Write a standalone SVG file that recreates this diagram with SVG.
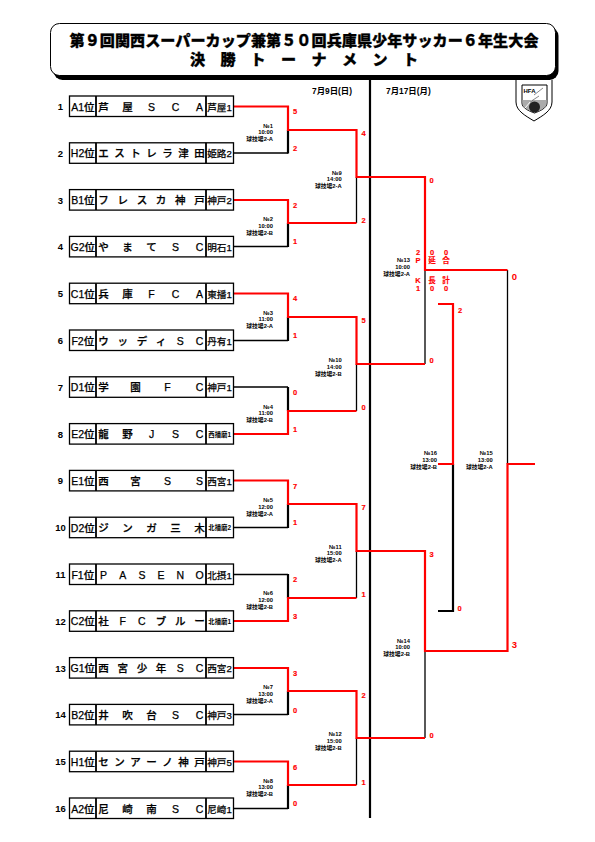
<svg xmlns="http://www.w3.org/2000/svg" width="595" height="842" viewBox="0 0 595 842">
<style>
text{font-family:"Liberation Sans","Noto Sans CJK JP",sans-serif;fill:#000}
.n{font-size:9.5px;font-weight:700;text-anchor:middle}
.b{fill:#fff;stroke:#000;stroke-width:1.3}
.d{fill:none;stroke:#000;stroke-width:1.8}
.s{font-size:10.5px;text-anchor:middle;font-weight:500;stroke:#000;stroke-width:.25}
.t{font-size:10.5px;text-anchor:middle;font-weight:500;stroke:#000;stroke-width:.25}
.c{font-size:9.6px;text-anchor:middle;stroke:#000;stroke-width:.25}
.c2{font-size:6.400px;text-anchor:middle;font-weight:700}
.m{font-size:5.800px;text-anchor:end;font-weight:700}
.r{font-size:7.500px;font-weight:700;text-anchor:middle;fill:#f00;stroke:#f00;stroke-width:.15}
.rb{font-size:9.500px;font-weight:700;text-anchor:middle;fill:#f00}
.red{fill:none;stroke:#f00;stroke-width:2.200}
.blk{fill:none;stroke:#000;stroke-width:2.200}
.thin{fill:none;stroke:#000;stroke-width:1.300}
.dt{font-size:8.400px;font-weight:700}
.ti{font-size:15.100px;font-weight:900;text-anchor:middle;stroke:#000;stroke-width:.3}
</style>
<g id="title">
<rect x="53.500" y="27" width="505" height="53" rx="9" fill="#000"/>
<rect x="50.500" y="23.500" width="505" height="52" rx="9" fill="#fff" stroke="#000" stroke-width="1"/>
<text class="ti" x="304" y="46" textLength="469" lengthAdjust="spacing">第９回関西スーパーカップ兼第５０回兵庫県少年サッカー６年生大会</text>
<text class="ti" x="197.500 228 258 288.500 319 349.500 380 410.500" y="65">決勝トーナメント</text>
</g>
<g id="logo">
<path d="M516 80V102C516 111 526 116 534 121C542 116 552 111 552 102V80" fill="#fff" stroke="#000" stroke-width="1"/>
<path d="M522 85H547V103C547 108 540 111 534.500 113C529 111 522 108 522 103Z" fill="#fff" stroke="#000" stroke-width="1"/>
<path d="M522.500 100H546.500V103C546.500 108 540 110.500 534.500 112.500C529 110.500 522.500 108 522.500 103Z" fill="#aaa"/>
<circle cx="534.500" cy="107" r="5.500" fill="#222"/>
<path d="M525 108L542 88" stroke="#fff" stroke-width="1" fill="none"/>
<path d="M534 95L543 88M530 102L539 96" stroke="#555" stroke-width=".7" fill="none"/>
<text x="523.500" y="93" style="font-size:6px;font-weight:700">HFA</text>
</g>
<g id="dates">
<text class="dt" x="312" y="93.500">7月9日(日)</text>
<text class="dt" x="386" y="93.500">7月17日(月)</text>
</g>
<g id="connectors">
<path class="blk" d="M370 78V818"/>
<path class="thin" d="M233 153H288M233 246.500H288M233 340.500H288M233 387H288M233 527.500H288M233 574.500H288M233 714.500H288M233 808.500H288"/>
<path class="blk" d="M288 130V153.500M288 223V247M288 317V341M288 387V411M288 504V528M288 574V598M288 691V715M288 785V809"/>
<path class="thin" d="M356.500 177V223M356.500 364V411M356.500 551V598M356.500 738V785"/>
<path class="thin" d="M425 270V364M425 651V738M507.500 270V464"/>
<path class="blk" d="M453 464V611H438"/>
<path class="red" d="M233 106.500H288V130H356.500V177H425V270H507.500"/>
<path class="red" d="M233 200H288V223H356.500"/>
<path class="red" d="M233 293.500H288V317H356.500V364H425"/>
<path class="red" d="M233 434H288V411H356.500"/>
<path class="red" d="M233 480.500H288V504H356.500V551H425V651H507.500V464H535"/>
<path class="red" d="M233 621H288V598H356.500"/>
<path class="red" d="M233 668H288V691H356.500V738H425"/>
<path class="red" d="M233 761.500H288V785H356.500"/>
<path class="red" d="M438 304H453V464H438"/>
</g>
<g id="scores">
<text class="r" x="295" y="113.500">5</text><text class="r" x="295" y="150.500">2</text>
<text class="r" x="295" y="207.500">2</text><text class="r" x="295" y="243.500">1</text>
<text class="r" x="295" y="300.500">4</text><text class="r" x="295" y="337.500">1</text>
<text class="r" x="295" y="394.500">0</text><text class="r" x="295" y="431.500">1</text>
<text class="r" x="295" y="488.500">7</text><text class="r" x="295" y="524.500">1</text>
<text class="r" x="295" y="581.500">2</text><text class="r" x="295" y="618.500">3</text>
<text class="r" x="295" y="675.500">3</text><text class="r" x="295" y="712.500">0</text>
<text class="r" x="295" y="769.500">6</text><text class="r" x="295" y="805.500">0</text>
<text class="r" x="363.500" y="135.500">4</text><text class="r" x="363.500" y="222.500">2</text>
<text class="r" x="363.500" y="322.500">5</text><text class="r" x="363.500" y="409.500">0</text>
<text class="r" x="363.500" y="509.500">7</text><text class="r" x="363.500" y="596.500">1</text>
<text class="r" x="363.500" y="697.500">2</text><text class="r" x="363.500" y="784.500">1</text>
<text class="r" x="431.700" y="182.500">0</text><text class="r" x="431.700" y="362.500">0</text>
<text class="r" x="431.700" y="556.500">3</text><text class="r" x="431.700" y="737.500">0</text>
<text class="rb" x="514.500" y="280">0</text><text class="rb" x="514.500" y="648">3</text>
<text class="r" x="460" y="313">2</text><text class="r" x="459.700" y="610.500">0</text>
<text class="r" x="418" y="254.500">2</text><text class="r" x="432" y="254.500">0</text><text class="r" x="446" y="254.500">0</text>
<text class="r" x="418" y="263">P</text><text class="r" x="432" y="263">延</text><text class="r" x="446" y="263">合</text>
<text class="r" x="418" y="283">K</text><text class="r" x="432" y="283">長</text><text class="r" x="446" y="283">計</text>
<text class="r" x="418" y="291">1</text><text class="r" x="432" y="291">0</text><text class="r" x="446" y="291">0</text>
</g>
<g id="team-1" transform="translate(0,96)"><text class="n" x="60.500" y="14">1</text><rect class="b" x="69.500" y="0" width="164" height="20.500"/><path class="d" d="M96 0V20.500M206 0V20.500"/><text class="s" x="82.800" y="14.500">A1位</text><text class="t" x="103.500 127.500 151.500 175.500 199.500" y="14.500">芦屋SCA</text><text class="c" x="219.500" y="14.500">芦屋1</text></g>
<g id="team-2" transform="translate(0,142.800)"><text class="n" x="60.500" y="14">2</text><rect class="b" x="69.500" y="0" width="164" height="20.500"/><path class="d" d="M96 0V20.500M206 0V20.500"/><text class="s" x="82.800" y="14.500">H2位</text><text class="t" x="103.500 119.500 135.500 151.500 167.500 183.500 199.500" y="14.500">エストレラ津田</text><text class="c" x="219.500" y="14.500">姫路2</text></g>
<g id="team-3" transform="translate(0,189.600)"><text class="n" x="60.500" y="14">3</text><rect class="b" x="69.500" y="0" width="164" height="20.500"/><path class="d" d="M96 0V20.500M206 0V20.500"/><text class="s" x="82.800" y="14.500">B1位</text><text class="t" x="103.500 122.700 141.900 161.100 180.300 199.500" y="14.500">フレスカ神戸</text><text class="c" x="219.500" y="14.500">神戸2</text></g>
<g id="team-4" transform="translate(0,236.400)"><text class="n" x="60.500" y="14">4</text><rect class="b" x="69.500" y="0" width="164" height="20.500"/><path class="d" d="M96 0V20.500M206 0V20.500"/><text class="s" x="82.800" y="14.500">G2位</text><text class="t" x="103.500 127.500 151.500 175.500 199.500" y="14.500">やまてSC</text><text class="c" x="219.500" y="14.500">明石1</text></g>
<g id="team-5" transform="translate(0,283.200)"><text class="n" x="60.500" y="14">5</text><rect class="b" x="69.500" y="0" width="164" height="20.500"/><path class="d" d="M96 0V20.500M206 0V20.500"/><text class="s" x="82.800" y="14.500">C1位</text><text class="t" x="103.500 127.500 151.500 175.500 199.500" y="14.500">兵庫FCA</text><text class="c" x="219.500" y="14.500">東播1</text></g>
<g id="team-6" transform="translate(0,330)"><text class="n" x="60.500" y="14">6</text><rect class="b" x="69.500" y="0" width="164" height="20.500"/><path class="d" d="M96 0V20.500M206 0V20.500"/><text class="s" x="82.800" y="14.500">F2位</text><text class="t" x="103.500 122.700 141.900 161.100 180.300 199.500" y="14.500">ウッディSC</text><text class="c" x="219.500" y="14.500">丹有1</text></g>
<g id="team-7" transform="translate(0,376.800)"><text class="n" x="60.500" y="14">7</text><rect class="b" x="69.500" y="0" width="164" height="20.500"/><path class="d" d="M96 0V20.500M206 0V20.500"/><text class="s" x="82.800" y="14.500">D1位</text><text class="t" x="103.500 135.500 167.500 199.500" y="14.500">学園FC</text><text class="c" x="219.500" y="14.500">神戸1</text></g>
<g id="team-8" transform="translate(0,423.600)"><text class="n" x="60.500" y="14">8</text><rect class="b" x="69.500" y="0" width="164" height="20.500"/><path class="d" d="M96 0V20.500M206 0V20.500"/><text class="s" x="82.800" y="14.500">E2位</text><text class="t" x="103.500 127.500 151.500 175.500 199.500" y="14.500">龍野JSC</text><text class="c2" x="219.700" y="13">西播磨1</text></g>
<g id="team-9" transform="translate(0,470.400)"><text class="n" x="60.500" y="14">9</text><rect class="b" x="69.500" y="0" width="164" height="20.500"/><path class="d" d="M96 0V20.500M206 0V20.500"/><text class="s" x="82.800" y="14.500">E1位</text><text class="t" x="103.500 135.500 167.500 199.500" y="14.500">西宮SS</text><text class="c" x="219.500" y="14.500">西宮1</text></g>
<g id="team-10" transform="translate(0,517.200)"><text class="n" x="60.500" y="14">10</text><rect class="b" x="69.500" y="0" width="164" height="20.500"/><path class="d" d="M96 0V20.500M206 0V20.500"/><text class="s" x="82.800" y="14.500">D2位</text><text class="t" x="103.500 127.500 151.500 175.500 199.500" y="14.500">ジンガ三木</text><text class="c2" x="219.700" y="13">北播磨2</text></g>
<g id="team-11" transform="translate(0,564)"><text class="n" x="60.500" y="14">11</text><rect class="b" x="69.500" y="0" width="164" height="20.500"/><path class="d" d="M96 0V20.500M206 0V20.500"/><text class="s" x="82.800" y="14.500">F1位</text><text class="t" x="103.500 122.700 141.900 161.100 180.300 199.500" y="14.500">PASENO</text><text class="c" x="219.500" y="14.500">北摂1</text></g>
<g id="team-12" transform="translate(0,610.800)"><text class="n" x="60.500" y="14">12</text><rect class="b" x="69.500" y="0" width="164" height="20.500"/><path class="d" d="M96 0V20.500M206 0V20.500"/><text class="s" x="82.800" y="14.500">C2位</text><text class="t" x="103.500 122.700 141.900 161.100 180.300 199.500" y="14.500">社FCブルー</text><text class="c2" x="219.700" y="13">北播磨1</text></g>
<g id="team-13" transform="translate(0,657.600)"><text class="n" x="60.500" y="14">13</text><rect class="b" x="69.500" y="0" width="164" height="20.500"/><path class="d" d="M96 0V20.500M206 0V20.500"/><text class="s" x="82.800" y="14.500">G1位</text><text class="t" x="103.500 122.700 141.900 161.100 180.300 199.500" y="14.500">西宮少年SC</text><text class="c" x="219.500" y="14.500">西宮2</text></g>
<g id="team-14" transform="translate(0,704.400)"><text class="n" x="60.500" y="14">14</text><rect class="b" x="69.500" y="0" width="164" height="20.500"/><path class="d" d="M96 0V20.500M206 0V20.500"/><text class="s" x="82.800" y="14.500">B2位</text><text class="t" x="103.500 127.500 151.500 175.500 199.500" y="14.500">井吹台SC</text><text class="c" x="219.500" y="14.500">神戸3</text></g>
<g id="team-15" transform="translate(0,751.200)"><text class="n" x="60.500" y="14">15</text><rect class="b" x="69.500" y="0" width="164" height="20.500"/><path class="d" d="M96 0V20.500M206 0V20.500"/><text class="s" x="82.800" y="14.500">H1位</text><text class="t" x="103.500 119.500 135.500 151.500 167.500 183.500 199.500" y="14.500">センアーノ神戸</text><text class="c" x="219.500" y="14.500">神戸5</text></g>
<g id="team-16" transform="translate(0,798)"><text class="n" x="60.500" y="14">16</text><rect class="b" x="69.500" y="0" width="164" height="20.500"/><path class="d" d="M96 0V20.500M206 0V20.500"/><text class="s" x="82.800" y="14.500">A2位</text><text class="t" x="103.500 127.500 151.500 175.500 199.500" y="14.500">尼崎南SC</text><text class="c" x="219.500" y="14.500">尼崎1</text></g>
<g id="match-1" transform="translate(273,127.500)"><text class="m" y="0">№1</text><text class="m" y="6.800">10:00</text><text class="m" y="13.600">球技場2-A</text></g>
<g id="match-2" transform="translate(273,221)"><text class="m" y="0">№2</text><text class="m" y="6.800">10:00</text><text class="m" y="13.600">球技場2-B</text></g>
<g id="match-3" transform="translate(273,314.700)"><text class="m" y="0">№3</text><text class="m" y="6.800">11:00</text><text class="m" y="13.600">球技場2-A</text></g>
<g id="match-4" transform="translate(273,408.700)"><text class="m" y="0">№4</text><text class="m" y="6.800">11:00</text><text class="m" y="13.600">球技場2-B</text></g>
<g id="match-5" transform="translate(273,502)"><text class="m" y="0">№5</text><text class="m" y="6.800">12:00</text><text class="m" y="13.600">球技場2-A</text></g>
<g id="match-6" transform="translate(273,595)"><text class="m" y="0">№6</text><text class="m" y="6.800">12:00</text><text class="m" y="13.600">球技場2-B</text></g>
<g id="match-7" transform="translate(273,689)"><text class="m" y="0">№7</text><text class="m" y="6.800">13:00</text><text class="m" y="13.600">球技場2-A</text></g>
<g id="match-8" transform="translate(273,782.700)"><text class="m" y="0">№8</text><text class="m" y="6.800">13:00</text><text class="m" y="13.600">球技場2-B</text></g>
<g id="match-9" transform="translate(341.700,174.700)"><text class="m" y="0">№9</text><text class="m" y="6.800">14:00</text><text class="m" y="13.600">球技場2-A</text></g>
<g id="match-10" transform="translate(341.700,362)"><text class="m" y="0">№10</text><text class="m" y="6.800">14:00</text><text class="m" y="13.600">球技場2-B</text></g>
<g id="match-11" transform="translate(341.700,548.700)"><text class="m" y="0">№11</text><text class="m" y="6.800">15:00</text><text class="m" y="13.600">球技場2-A</text></g>
<g id="match-12" transform="translate(341.700,736)"><text class="m" y="0">№12</text><text class="m" y="6.800">15:00</text><text class="m" y="13.600">球技場2-B</text></g>
<g id="match-13" transform="translate(410,262)"><text class="m" y="0">№13</text><text class="m" y="6.800">10:00</text><text class="m" y="13.600">球技場2-A</text></g>
<g id="match-14" transform="translate(410,642.700)"><text class="m" y="0">№14</text><text class="m" y="6.800">10:00</text><text class="m" y="13.600">球技場2-B</text></g>
<g id="match-15" transform="translate(492.700,455)"><text class="m" y="0">№15</text><text class="m" y="6.800">13:00</text><text class="m" y="13.600">球技場2-A</text></g>
<g id="match-16" transform="translate(437,455)"><text class="m" y="0">№16</text><text class="m" y="6.800">13:00</text><text class="m" y="13.600">球技場2-B</text></g>
</svg>
